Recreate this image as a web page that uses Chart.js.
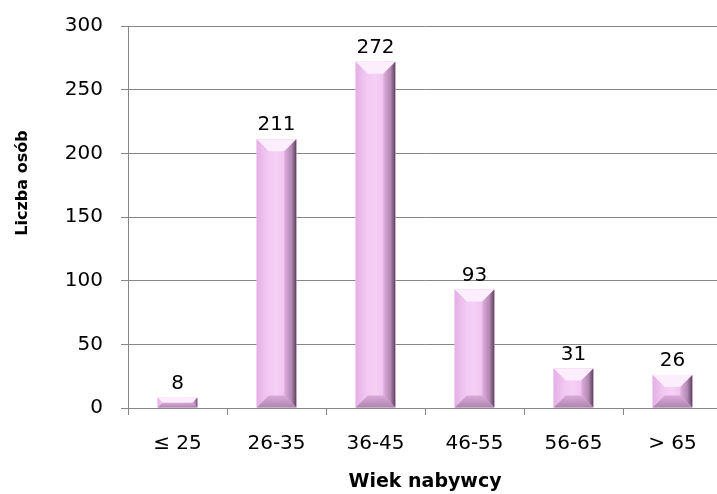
<!DOCTYPE html>
<html>
<head>
<meta charset="utf-8">
<script src="https://cdn.jsdelivr.net/npm/chart.js@4"></script>
<style>
  html, body { margin: 0; padding: 0; background: #fff; overflow: hidden; }
  #wrap { width: 722px; height: 494px; }
</style>
</head>
<body>
<div id="wrap"><canvas id="myChart"></canvas></div>
<script>
const categories = ['≤ 25', '26-35', '36-45', '46-55', '56-65', '> 65'];
const persons = [8, 211, 272, 93, 31, 26];
const xTitle = 'Wiek nabywcy';
const yTitle = 'Liczba osób';

const FONT = "'DejaVu Sans', sans-serif";
const AXIS = '#868686';

// bars get a bevelled look, drawn over the library's own bar boxes
const bevelBars = {
  id: 'bevelBars',
  afterDatasetsDraw(chart) {
    const ctx = chart.ctx;
    chart.getDatasetMeta(0).data.forEach(bar => {
      const w = bar.width;
      const L = bar.x - w / 2, R = bar.x + w / 2;
      const T = bar.y, B = bar.base;
      const h = B - T;
      const d = Math.min(12, h / 2, w / 2);
      ctx.save();
      // face
      let g = ctx.createLinearGradient(L, 0, R, 0);
      g.addColorStop(0, '#efbdef');
      g.addColorStop(0.5, '#f5d0f5');
      g.addColorStop(1, '#e6b2e6');
      ctx.fillStyle = g;
      ctx.fillRect(L, T, w, h);
      // top bevel
      ctx.fillStyle = '#fdeefd';
      ctx.beginPath();
      ctx.moveTo(L, T); ctx.lineTo(R, T); ctx.lineTo(R - d, T + d); ctx.lineTo(L + d, T + d);
      ctx.closePath(); ctx.fill();
      // left bevel
      g = ctx.createLinearGradient(L, 0, L + d, 0);
      g.addColorStop(0, '#e4b0e4');
      g.addColorStop(1, '#f3cbf3');
      ctx.fillStyle = g;
      ctx.beginPath();
      ctx.moveTo(L, T); ctx.lineTo(L + d, T + d); ctx.lineTo(L + d, B - d); ctx.lineTo(L, B);
      ctx.closePath(); ctx.fill();
      // right bevel
      g = ctx.createLinearGradient(R - d, 0, R, 0);
      g.addColorStop(0, '#e0aee0');
      g.addColorStop(0.6, '#b088b0');
      g.addColorStop(1, '#5c405c');
      ctx.fillStyle = g;
      ctx.beginPath();
      ctx.moveTo(R, T); ctx.lineTo(R - d, T + d); ctx.lineTo(R - d, B - d); ctx.lineTo(R, B);
      ctx.closePath(); ctx.fill();
      // bottom bevel
      g = ctx.createLinearGradient(0, B - d, 0, B);
      g.addColorStop(0, '#daaada');
      g.addColorStop(1, '#ad85ad');
      ctx.fillStyle = g;
      ctx.beginPath();
      ctx.moveTo(L, B); ctx.lineTo(L + d, B - d); ctx.lineTo(R - d, B - d); ctx.lineTo(R, B);
      ctx.closePath(); ctx.fill();
      ctx.restore();
    });
  }
};

const valueLabels = {
  id: 'valueLabels',
  afterDatasetsDraw(chart) {
    const ctx = chart.ctx;
    ctx.save();
    ctx.font = '20px ' + FONT;
    ctx.fillStyle = '#000';
    ctx.textAlign = 'center';
    ctx.textBaseline = 'alphabetic';
    chart.getDatasetMeta(0).data.forEach((bar, i) => {
      ctx.fillText(String(persons[i]), bar.x, bar.y - 9);
    });
    ctx.restore();
  }
};

const yTitlePlugin = {
  id: 'yTitlePlugin',
  afterDraw(chart) {
    const ctx = chart.ctx;
    ctx.save();
    ctx.translate(23, 183);
    ctx.rotate(-Math.PI / 2);
    ctx.font = 'bold 16px ' + FONT;
    ctx.fillStyle = '#000';
    ctx.textAlign = 'center';
    ctx.textBaseline = 'middle';
    ctx.fillText(yTitle, 0, 0);
    ctx.restore();
  }
};

new Chart(document.getElementById('myChart'), {
  type: 'bar',
  data: {
    labels: categories,
    datasets: [{
      data: persons,
      backgroundColor: '#f2c6f2',
      borderWidth: 0,
      barPercentage: 0.4,
      categoryPercentage: 1
    }]
  },
  options: {
    responsive: true,
    maintainAspectRatio: false,
    animation: false,
    layout: { padding: { top: 26, left: 0, right: 0, bottom: 0 } },
    plugins: { legend: { display: false }, tooltip: { enabled: false } },
    scales: {
      x: {
        grid: { display: true, drawOnChartArea: false, color: AXIS, tickLength: 7, offset: true },
        border: { color: AXIS, width: 1 },
        ticks: { color: '#000', font: { family: FONT, size: 20 }, padding: 17, maxRotation: 0 },
        title: {
          display: true, text: xTitle, color: '#000',
          font: { family: FONT, size: 19, weight: 'bold' },
          padding: { top: 0, bottom: 1 }
        },
        afterFit(scale) { scale.height = 86; scale.paddingLeft = 0; scale.paddingRight = 0; }
      },
      y: {
        min: 0, max: 300,
        ticks: { stepSize: 50, color: '#000', font: { family: FONT, size: 20 }, padding: 18 },
        grid: { color: AXIS, tickLength: 7 },
        border: { color: AXIS, width: 1 },
        afterFit(scale) { scale.width = 128; scale.paddingTop = 0; scale.paddingBottom = 0; }
      }
    }
  },
  plugins: [bevelBars, valueLabels, yTitlePlugin]
});
</script>
</body>
</html>
